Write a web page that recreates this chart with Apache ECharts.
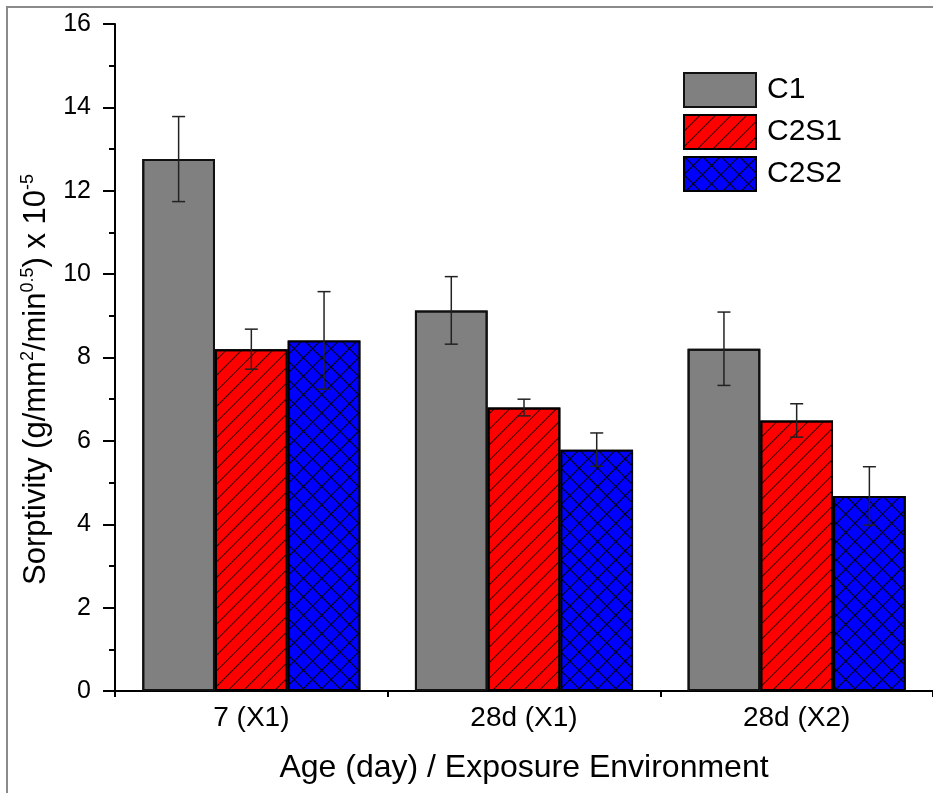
<!DOCTYPE html>
<html>
<head>
<meta charset="utf-8">
<script src="https://cdn.jsdelivr.net/npm/echarts@6/dist/echarts.min.js"></script>
<style>
  html, body { margin: 0; padding: 0; background: #fff; }
  #chart { width: 933px; height: 793px; }
</style>
</head>
<body>
<div id="chart"></div>
<script>
var categories = ['7 (X1)', '28d (X1)', '28d (X2)'];
var seriesNames = ['C1', 'C2S1', 'C2S2'];
var c1 = [12.76, 9.13, 8.21];
var c1Err = [1.02, 0.81, 0.88];
var c2s1 = [8.2, 6.8, 6.49];
var c2s1Err = [0.48, 0.2, 0.4];
var c2s2 = [8.41, 5.79, 4.68];
var c2s2Err = [1.17, 0.4, 0.7];
var yTicks = [0, 2, 4, 6, 8, 10, 12, 14, 16];

window.onload = function () {
    var myChart = echarts.init(document.getElementById('chart'));
    var font = 'Liberation Sans, Arial, sans-serif';
    var catGap = 0.2; // barCategoryGap

    // 误差棒
    function errSeries(vals, errs, k) {
        return {
            type: 'custom',
            name: seriesNames[k] + ' err',
            z: 10,
            silent: true,
            data: vals.map(function (v, i) { return [i, v, errs[i]]; }),
            encode: { x: 0, y: 1 },
            renderItem: function (params, api) {
                var i = api.value(0), v = api.value(1), e = api.value(2);
                var c = api.coord([i, v]);
                var band = api.size([1, 0])[0];
                var bw = band * (1 - catGap) / 3;
                var x = c[0] + (k - 1) * bw;
                var top = api.coord([i, v + e])[1];
                var bot = api.coord([i, v - e])[1];
                var cap = 6.5;
                var st = { stroke: '#222', lineWidth: 1.5 };
                return {
                    type: 'group',
                    children: [
                        { type: 'line', shape: { x1: x, y1: top, x2: x, y2: bot }, style: st },
                        { type: 'line', shape: { x1: x - cap, y1: top, x2: x + cap, y2: top }, style: st },
                        { type: 'line', shape: { x1: x - cap, y1: bot, x2: x + cap, y2: bot }, style: st }
                    ]
                };
            }
        };
    }

    myChart.setOption({
        animation: false,
        aria: { enabled: true, decal: { show: true } },
        textStyle: { fontFamily: font },
        graphic: [{
            type: 'rect',
            z: -10,
            shape: { x: 7, y: 7, width: 1000, height: 1000 },
            style: { fill: 'none', stroke: '#8a8a8a', lineWidth: 2 }
        }],
        grid: { left: 115, top: 24, right: 0, bottom: 102, outerBoundsMode: 'none' },
        legend: {
            orient: 'vertical',
            left: 683,
            top: 72,
            padding: 0,
            itemWidth: 72,
            itemHeight: 34,
            itemGap: 6,
            icon: 'rect',
            data: seriesNames,
            textStyle: { fontSize: 30, color: '#000', fontFamily: font, padding: [0, 0, 0, 6] }
        },
        xAxis: {
            type: 'category',
            data: categories,
            name: 'Age (day) / Exposure Environment',
            nameLocation: 'middle',
            nameGap: 61,
            nameTextStyle: { fontSize: 32, color: '#000', fontFamily: font },
            axisLine: { lineStyle: { color: '#000', width: 2 } },
            axisTick: { show: true, length: 6, lineStyle: { color: '#000', width: 2 } },
            axisLabel: { fontSize: 28, color: '#000', margin: 13, fontFamily: font }
        },
        yAxis: {
            type: 'value',
            min: 0,
            max: 16,
            interval: 2,
            name: '{a|Sorptivity (g/mm}{s|2}{a|/min}{s|0.5}{a|) x 10}{s|-5}',
            nameLocation: 'middle',
            nameGap: 58,
            nameTextStyle: {
                padding: [0, 44, 0, 0],
                rich: {
                    a: { fontSize: 31, color: '#000', fontFamily: font, lineHeight: 36 },
                    s: { fontSize: 18, color: '#000', fontFamily: font, verticalAlign: 'top', lineHeight: 36 }
                }
            },
            axisLine: { show: true, lineStyle: { color: '#000', width: 2 } },
            axisTick: { show: true, length: 12, lineStyle: { color: '#000', width: 2 } },
            minorTick: { show: true, splitNumber: 2, length: 6, lineStyle: { color: '#000', width: 2 } },
            splitLine: { show: false },
            axisLabel: {
                fontSize: 25, color: '#000', margin: 24, fontFamily: font,
                formatter: function (v) { return yTicks.indexOf(v) >= 0 ? String(v) : ''; }
            }
        },
        series: [
            {
                name: 'C1', type: 'bar', data: c1,
                barGap: 0, barCategoryGap: '20%',
                itemStyle: { color: '#808080', borderColor: '#111', borderWidth: 2, decal: { symbol: 'none' } }
            },
            {
                name: 'C2S1', type: 'bar', data: c2s1,
                barGap: 0, barCategoryGap: '20%',
                itemStyle: {
                    color: '#ff0000', borderColor: '#000', borderWidth: 2,
                    decal: { symbol: 'rect', color: '#000', dashArrayX: [1, 0], dashArrayY: [1, 10], rotation: -Math.PI / 4 }
                }
            },
            {
                name: 'C2S2', type: 'bar', data: c2s2,
                barGap: 0, barCategoryGap: '20%',
                itemStyle: {
                    color: '#000', borderColor: '#000', borderWidth: 2,
                    decal: { symbol: 'rect', color: '#0000ff', symbolSize: 1, dashArrayX: [12, 1], dashArrayY: [12, 1], rotation: Math.PI / 4 }
                }
            },
            errSeries(c1, c1Err, 0),
            errSeries(c2s1, c2s1Err, 1),
            errSeries(c2s2, c2s2Err, 2)
        ]
    });
};
</script>
</body>
</html>
